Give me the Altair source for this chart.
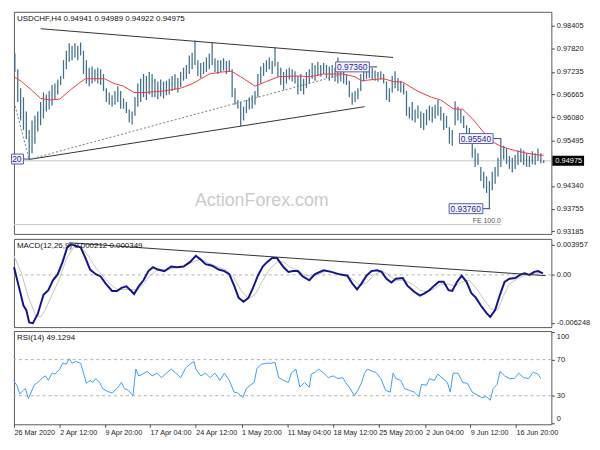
import json
import altair as alt
import pandas as pd

# ---------------- price bars (8-hour steps, high / low) ----------------
highs = [
    0.9770, 0.9730, 0.9682, 0.9659, 0.9623, 0.9576, 0.9600, 0.9612, 0.9623, 0.9647,
    0.9671, 0.9666, 0.9675, 0.9690, 0.9694, 0.9704, 0.9713, 0.9753, 0.9777, 0.9796,
    0.9789, 0.9796, 0.9789, 0.9798, 0.9777, 0.9753, 0.9734, 0.9737, 0.9730, 0.9734,
    0.9730, 0.9718, 0.9682, 0.9671, 0.9664, 0.9675, 0.9687, 0.9675, 0.9656, 0.9647,
    0.9628, 0.9623, 0.9659, 0.9694, 0.9706, 0.9718, 0.9713, 0.9723, 0.9718, 0.9706,
    0.9699, 0.9704, 0.9699, 0.9701, 0.9706, 0.9713, 0.9718, 0.9708, 0.9723, 0.9734,
    0.9741, 0.9765, 0.9772, 0.9803, 0.9753, 0.9746, 0.9749, 0.9760, 0.9770, 0.9798,
    0.9758, 0.9753, 0.9753, 0.9758, 0.9751, 0.9753, 0.9730, 0.9682, 0.9652, 0.9647,
    0.9635, 0.9652, 0.9659, 0.9664, 0.9675, 0.9718, 0.9737, 0.9746, 0.9753, 0.9760,
    0.9751, 0.9786, 0.9749, 0.9734, 0.9723, 0.9730, 0.9734, 0.9730, 0.9725, 0.9713,
    0.9718, 0.9706, 0.9723, 0.9730, 0.9746, 0.9741, 0.9749, 0.9741, 0.9746, 0.9741,
    0.9737, 0.9741, 0.9734, 0.9760, 0.9725, 0.9723, 0.9718, 0.9701, 0.9671, 0.9675,
    0.9682, 0.9718, 0.9732, 0.9734, 0.9736, 0.9734, 0.9727, 0.9723, 0.9725, 0.9718,
    0.9699, 0.9682, 0.9713, 0.9725, 0.9708, 0.9701, 0.9694, 0.9675, 0.9635, 0.9647,
    0.9628, 0.9638, 0.9623, 0.9619, 0.9628, 0.9638, 0.9635, 0.9640, 0.9652, 0.9635,
    0.9619, 0.9612, 0.9583, 0.9576, 0.9649, 0.9635, 0.9628, 0.9612, 0.9588, 0.9581,
    0.9557, 0.9529, 0.9517, 0.9482, 0.9470, 0.9458, 0.9446, 0.9470, 0.9482, 0.9505,
    0.9554, 0.9536, 0.9529, 0.9510, 0.9505, 0.9512, 0.9524, 0.9529, 0.9524, 0.9517,
    0.9510, 0.9522, 0.9517, 0.9529, 0.9517, 0.9499,
]
lows = [
    0.9723, 0.9647, 0.9600, 0.9576, 0.9553, 0.9501, 0.9517, 0.9541, 0.9572, 0.9588,
    0.9605, 0.9623, 0.9628, 0.9638, 0.9654, 0.9666, 0.9690, 0.9706, 0.9730, 0.9749,
    0.9753, 0.9760, 0.9753, 0.9765, 0.9718, 0.9694, 0.9687, 0.9694, 0.9699, 0.9694,
    0.9690, 0.9675, 0.9647, 0.9640, 0.9635, 0.9640, 0.9647, 0.9630, 0.9630, 0.9619,
    0.9595, 0.9590, 0.9612, 0.9635, 0.9647, 0.9659, 0.9652, 0.9666, 0.9659, 0.9659,
    0.9654, 0.9661, 0.9656, 0.9664, 0.9666, 0.9675, 0.9678, 0.9671, 0.9685, 0.9701,
    0.9706, 0.9718, 0.9730, 0.9741, 0.9713, 0.9708, 0.9718, 0.9723, 0.9730, 0.9741,
    0.9723, 0.9718, 0.9723, 0.9727, 0.9718, 0.9723, 0.9659, 0.9640, 0.9630, 0.9586,
    0.9600, 0.9619, 0.9628, 0.9630, 0.9640, 0.9659, 0.9694, 0.9713, 0.9723, 0.9730,
    0.9718, 0.9737, 0.9711, 0.9690, 0.9678, 0.9694, 0.9704, 0.9699, 0.9694, 0.9666,
    0.9675, 0.9666, 0.9682, 0.9694, 0.9706, 0.9701, 0.9713, 0.9711, 0.9718, 0.9708,
    0.9701, 0.9708, 0.9699, 0.9694, 0.9699, 0.9694, 0.9690, 0.9659, 0.9640, 0.9647,
    0.9654, 0.9675, 0.9699, 0.9706, 0.9708, 0.9704, 0.9701, 0.9699, 0.9704, 0.9694,
    0.9652, 0.9647, 0.9671, 0.9682, 0.9675, 0.9671, 0.9666, 0.9612, 0.9605, 0.9600,
    0.9595, 0.9605, 0.9581, 0.9576, 0.9588, 0.9600, 0.9595, 0.9605, 0.9612, 0.9600,
    0.9576, 0.9581, 0.9541, 0.9536, 0.9588, 0.9600, 0.9593, 0.9581, 0.9553, 0.9545,
    0.9505, 0.9482, 0.9487, 0.9446, 0.9428, 0.9416, 0.9376, 0.9423, 0.9439, 0.9458,
    0.9482, 0.9501, 0.9489, 0.9477, 0.9468, 0.9477, 0.9487, 0.9494, 0.9487, 0.9482,
    0.9482, 0.9489, 0.9487, 0.9498, 0.9491, 0.9492,
]
bar_k = list(range(1, len(highs) + 1))

# ---------------- moving average (red) ----------------
ma_k = [0.7, 3.3, 6.7, 10, 13.3, 16.7, 20, 23.3, 25.7, 29, 32.3, 35.7, 39, 42.7, 46.7,
        53.3, 59, 63.3, 69, 73.3, 76.7, 80, 85, 89, 93.3, 100, 104.3, 109, 115.7, 120,
        122.3, 126.7, 130, 133.3, 136.7, 139, 141.7, 146.7, 150, 154.3, 157.7, 161,
        164.3, 167.7, 171, 175.7, 180, 184.3, 186]
ma_val = [0.9711, 0.9699, 0.9678, 0.9656, 0.9652, 0.9654, 0.9675, 0.9694, 0.9706, 0.9706,
          0.9706, 0.9694, 0.9687, 0.9671, 0.9671, 0.9675, 0.9682, 0.9694, 0.9718, 0.9723,
          0.9725, 0.9711, 0.9687, 0.9699, 0.9711, 0.9713, 0.9711, 0.9718, 0.9718, 0.9711,
          0.9701, 0.9704, 0.9706, 0.9699, 0.9697, 0.9687, 0.9675, 0.9659, 0.9652, 0.9630,
          0.9628, 0.9605, 0.9576, 0.9548, 0.9534, 0.9524, 0.9517, 0.9512, 0.9512]

# ---------------- MACD ----------------
macd_k = [0.7, 2.3, 4, 5, 6, 7.3, 9, 11, 12.7, 14.3, 16, 17.7, 19.3, 20.7, 22.3, 24, 25.7,
          27.3, 29.3, 31, 32.7, 35, 36.7, 38.3, 40, 41.7, 42.7, 44.3, 46, 47.7, 49.3, 51,
          53.3, 55.7, 57.7, 60, 62.3, 64.3, 66, 67.7, 70, 72.3, 74.3, 76, 77.7, 79.3, 81,
          82.7, 84.3, 86, 87.7, 89.3, 91, 92.7, 95, 96.7, 98.3, 100, 101.7, 104, 106, 109,
          111.7, 114.3, 117.3, 119, 120.7, 122.3, 124, 125.7, 127.7, 129.3, 131, 132.7,
          134.3, 136.7, 138.3, 140.7, 142.7, 144.3, 146, 147.7, 149.3, 151, 152.7, 154,
          155.7, 157.3, 159, 160.7, 162.3, 164, 166, 167.3, 169, 170.7, 172.3, 174, 176,
          177.7, 179.3, 181, 182.7, 184, 185.7]
macd_val = [0.0010, -0.0014, -0.0040, -0.0046, -0.0062, -0.0063, -0.0051, -0.0026, -0.0020,
            -0.0007, 0.0001, 0.0017, 0.0036, 0.0040, 0.0038, 0.0036, 0.0022, 0.0007, 0.0001,
            -0.0002, -0.0011, -0.0021, -0.0021, -0.0017, -0.0015, -0.0021, -0.0025, -0.0015,
            -0.0007, 0.0005, 0.0010, 0.0007, 0.0005, 0.0011, 0.0010, 0.0011, 0.0017, 0.0025,
            0.0020, 0.0014, 0.0012, 0.0007, 0.0005, 0.0001, -0.0014, -0.0030, -0.0035,
            -0.0030, -0.0017, -0.0001, 0.0011, 0.0017, 0.0022, 0.0022, 0.0010, 0.0004,
            0.0005, 0.0005, -0.0002, -0.0007, 0.0001, 0.0006, 0.0004, 0.0001, -0.0001,
            -0.0011, -0.0019, -0.0011, -0.0001, 0.0005, 0.0006, 0.0004, -0.0005, -0.0010,
            -0.0005, -0.0004, -0.0014, -0.0022, -0.0027, -0.0024, -0.0020, -0.0014, -0.0009,
            -0.0009, -0.0020, -0.0021, -0.0009, -0.0001, -0.0009, -0.0024, -0.0030, -0.0040,
            -0.0050, -0.0055, -0.0046, -0.0026, -0.0009, -0.0005, -0.0004, 0.0000, 0.0002,
            0.0000, 0.0004, 0.0005, 0.0002]
sig_k = [0.7, 3.3, 5.7, 8.3, 10, 11.7, 14, 16.7, 19, 21.7, 24, 26.7, 29.3, 31.7, 34.3,
         36.7, 39.3, 41.7, 44, 46, 48.3, 50.7, 53.3, 56.7, 60, 63.3, 66, 68.3, 71.7, 75,
         77.7, 80, 82.7, 85, 87.3, 90, 92.7, 95, 97.3, 100, 102.3, 105, 107.3, 110, 113.3,
         116.7, 119.3, 121.7, 124, 126.7, 129.3, 131.7, 134.3, 137.3, 140, 142.7, 145,
         147.3, 150, 152.7, 155, 157.3, 160, 162.7, 165, 167.7, 170, 171.7, 174, 176.7,
         180, 182.7, 185.7]
sig_val = [0.0025, 0.0002, -0.0029, -0.0053, -0.0055, -0.0045, -0.0026, -0.0004, 0.0021,
           0.0037, 0.0037, 0.0025, 0.0009, -0.0001, -0.0012, -0.0019, -0.0019, -0.0019,
           -0.0019, -0.0012, -0.0001, 0.0006, 0.0006, 0.0009, 0.0011, 0.0017, 0.0021,
           0.0016, 0.0011, 0.0006, -0.0004, -0.0020, -0.0031, -0.0026, -0.0010, 0.0007,
           0.0017, 0.0017, 0.0010, 0.0006, 0.0000, -0.0002, 0.0001, 0.0005, 0.0002, 0.0000,
           -0.0006, -0.0014, -0.0010, 0.0000, 0.0005, 0.0000, -0.0007, -0.0007, -0.0012,
           -0.0020, -0.0022, -0.0019, -0.0012, -0.0012, -0.0015, -0.0009, -0.0007, -0.0019,
           -0.0032, -0.0045, -0.0045, -0.0029, -0.0012, -0.0005, 0.0000, 0.0002, 0.0003]

# ---------------- RSI ----------------
rsi_k = [0.7, 1.7, 2.7, 4, 4.7, 5.7, 6.7, 7.7, 9, 10.7, 11.7, 12.7, 14, 15, 16.7, 17.7,
         19, 20, 21, 22.3, 24, 25, 26, 27.3, 28.3, 29.3, 30.7, 31.7, 33.3, 35, 36.7, 38.3,
         39.3, 40.7, 42.3, 43.3, 44.3, 45.7, 47.3, 49, 50.7, 52.3, 54, 55.7, 57.3, 59,
         60.7, 62.3, 63.7, 64.3, 66, 67.7, 69.3, 71, 72.7, 74.3, 76, 77.7, 79, 80.7, 82,
         83.3, 84.7, 85.7, 87.3, 89, 90.7, 92, 93.3, 95, 96.7, 97.7, 99.3, 100.7, 102.3,
         104, 104.7, 106, 107.3, 109, 110.7, 112.3, 114, 115.7, 116.7, 118.3, 119.7, 121,
         122.3, 123.3, 124.3, 126, 127.3, 129, 130.7, 132.3, 133.3, 134.3, 136, 137.3, 139,
         140.7, 142.3, 143.3, 145, 146, 147.7, 149, 150.7, 152.3, 153.3, 154.3, 156, 157.7,
         159.3, 161, 162.7, 164.3, 166, 167.3, 168.3, 169.7, 170.7, 172.3, 174, 175.7,
         177.3, 179, 180.7, 182.3, 184, 185]
rsi_val = [45.8, 41.6, 32, 36, 38, 27, 34, 41.6, 44.7, 50, 52, 47, 55, 54, 59.5, 66, 65, 71,
           66, 68, 66, 55, 43.7, 47, 44.7, 49, 44.7, 38, 35, 33, 38, 44.7, 38, 36, 30, 59.5,
           52, 54, 57, 52, 55, 50, 55, 59.5, 55, 50, 60.5, 65, 68, 59.5, 52, 55, 50, 55, 47,
           55, 47, 34, 33, 28, 38, 41.6, 44.7, 60.5, 65, 66, 66, 67, 50, 47, 44.7, 55, 59.5,
           39.5, 44.7, 39.5, 54, 56, 59.5, 55, 50, 52, 49, 50, 44.7, 38, 30, 36, 44.7, 55,
           59.5, 57, 56, 49, 36, 34, 55, 49, 47, 38, 36, 34, 29, 42.6, 41.6, 49, 47, 54, 49,
           44.7, 34, 55, 55, 44.7, 43.7, 34, 31, 28, 29, 25, 38, 42.6, 57, 52, 49, 49, 55,
           50, 49, 56, 54, 49]

# ---------------- lines, labels, ticks ----------------
trend_line = ["upper", "upper", "lower", "lower"]
trend_k = [10, 133.3, 6, 123.3]
trend_p = [0.9833, 0.9760, 0.9501, 0.9635]
fe_line = ["a", "a", "b", "b"]
fe_k = [0.7, 6, 6, 115]
fe_p = [0.9647, 0.9501, 0.9501, 0.9716]
fe_level = [0.93355]
fe_end_k = [171]
fe_text = ["FE 100.0"]

# price labels (the first one is cut by the left edge, leaving "20")
ann_text = ["0.97360", "0.95540", "0.93760"]
ann_price = [0.9736, 0.9554, 0.9376]
ann_k = [125, 168.3, 164.7]
ann_k_end = [127.7, 171, 167.3]
edge_text = ["20"]
edge_price = [0.9502]
edge_k = [4]
edge_k_end = [6]

macd_trend_k = [20, 186.7]
macd_trend_v = [0.0042, -0.0001]

last_price = [0.94975]
price_ticks = [0.98405, 0.97820, 0.97235, 0.96665, 0.96080, 0.95495, 0.94340, 0.93755, 0.93185]
macd_ticks = [0.003957, 0.0, -0.006248]
macd_tick_labels = ["0.003957", "0.00", "-0.006248"]
rsi_ticks = [100, 70, 30, 0]
rsi_levels = [70, 30]
x_ticks = [0.7, 16.7, 32.5, 48.3, 64.3, 80.3, 96.3, 112.3, 128.3, 144.7, 160.3, 176.3]
x_labels = ["26 Mar 2020", "2 Apr 12:00", "9 Apr 20:00", "17 Apr 04:00", "24 Apr 12:00",
            "1 May 20:00", "11 May 04:00", "18 May 12:00", "25 May 20:00", "2 Jun 04:00",
            "9 Jun 12:00", "16 Jun 20:00"]

main_title = ["USDCHF,H4  0.94941 0.94989 0.94922 0.94975"]
macd_title = ["MACD(12,26,9) 0.000212 0.000349"]
rsi_title = ["RSI(14) 49.1294"]
watermark = ["ActionForex.com"]

# ---------------- layout ----------------
W, HM, HD, HR = 542, 224, 89, 94
FONT = "Liberation Sans"
LBL = dict(labelFont=FONT, labelFontSize=7.5, labelColor="#222222", tickColor="#444444",
           tickSize=3, labelPadding=2, grid=False, domain=False, title=None,
           labelOverlap=False)

xsc = alt.Scale(domain=[0.67, 188.67], nice=False, zero=False)
ysc_main = alt.Scale(domain=[0.93119, 0.98759], nice=False, zero=False)
ysc_macd = alt.Scale(domain=[-0.00682, 0.00471], nice=False, zero=False)
ysc_rsi = alt.Scale(domain=[-1.6, 101.6], nice=False, zero=False)

main_axis = alt.Axis(orient="right", values=price_ticks, format=".5f", **LBL)
macd_expr = (f"datum.value > 0.001 ? '{macd_tick_labels[0]}' : "
             f"(datum.value < -0.001 ? '{macd_tick_labels[2]}' : '{macd_tick_labels[1]}')")
macd_axis = alt.Axis(orient="right", values=macd_ticks, labelExpr=macd_expr, **LBL)
rsi_axis = alt.Axis(orient="right", values=rsi_ticks, format="d", labelFlush=4, **LBL)
x_expr = f"{json.dumps(x_labels)}[round((datum.value - {x_ticks[0]}) / 16)]"
x_axis = alt.Axis(values=x_ticks, labelExpr=x_expr, labelAlign="left", labelFlush=False,
                  labelFont=FONT, labelFontSize=7.3, labelColor="#222222",
                  tickColor="#444444", tickSize=3, labelPadding=1, grid=False,
                  domain=False, title=None, labelOverlap=False)


def X(f):
    return alt.X(f, type="quantitative", scale=xsc, axis=None, title=None)


def YM(f):
    return alt.Y(f, type="quantitative", scale=ysc_main, axis=main_axis, title=None)


def YD(f):
    return alt.Y(f, type="quantitative", scale=ysc_macd, axis=macd_axis, title=None)


def YR(f):
    return alt.Y(f, type="quantitative", scale=ysc_rsi, axis=rsi_axis, title=None)


# ---------------- main panel ----------------
bars_df = pd.DataFrame({"k": bar_k, "high": highs, "low": lows})
ma_df = pd.DataFrame({"k": ma_k, "v": ma_val})
trend_df = pd.DataFrame({"line": trend_line, "k": trend_k, "p": trend_p})
fe_df = pd.DataFrame({"line": fe_line, "k": fe_k, "p": fe_p})
fe_lvl_df = pd.DataFrame({"k0": [xsc.domain[0]], "k1": fe_end_k, "p": fe_level, "t": fe_text})
ann_df = pd.DataFrame({"t": ann_text, "p": ann_price, "kb": ann_k, "ke": ann_k_end})
edge_df = pd.DataFrame({"t": edge_text, "p": edge_price, "kb": edge_k, "ke": edge_k_end})
last_df = pd.DataFrame({"p": last_price, "t": [f"{last_price[0]:.5f}"]})

BOX = dict(fill="#f6f6ff", stroke="#5a5ab4", strokeWidth=1)
TXT = dict(align="right", baseline="middle", dx=-2, fontSize=8.5, font=FONT, color="#1e1e9a")

cur_line = alt.Chart(last_df).mark_rule(color="#c6c6c6", strokeWidth=1).encode(y=YM("p"))
fe_rule = alt.Chart(fe_lvl_df).mark_rule(color="#c6c6c6", strokeWidth=1).encode(
    x=X("k0"), x2="k1", y=YM("p"))
fe_lbl = alt.Chart(fe_lvl_df).mark_text(align="right", baseline="bottom", dy=-1, fontSize=7,
                                        font=FONT, color="#555555").encode(
    x=X("k1"), y=YM("p"), text="t:N")
wm = alt.Chart(pd.DataFrame({"t": watermark})).mark_text(
    fontSize=18, font=FONT, color="#cbcbcb").encode(
    x=alt.value(250), y=alt.value(191), text="t:N")
bars = alt.Chart(bars_df).mark_rule(color="#3f6e8e", strokeWidth=1.25).encode(
    x=X("k"), y=YM("low"), y2="high")
ma = alt.Chart(ma_df).mark_line(color="#f03a3a", strokeWidth=1).encode(x=X("k"), y=YM("v"))
trend = alt.Chart(trend_df).mark_line(color="#333333", strokeWidth=1).encode(
    x=X("k"), y=YM("p"), detail="line:N")
fe_dash = alt.Chart(fe_df).mark_line(color="#6f8080", strokeWidth=1, strokeDash=[2, 2]).encode(
    x=X("k"), y=YM("p"), detail="line:N")
ann_conn = alt.Chart(ann_df).mark_rule(color="#3a3aa8", strokeWidth=1).encode(
    x=X("kb"), x2="ke", y=YM("p"))
ann_box = alt.Chart(ann_df).mark_rect(xOffset=-34, x2Offset=0, yOffset=-5, y2Offset=5,
                                      **BOX).encode(x=X("kb"), x2="kb", y=YM("p"), y2="p")
ann_txt = alt.Chart(ann_df).mark_text(**TXT).encode(x=X("kb"), y=YM("p"), text="t:N")
edge_conn = alt.Chart(edge_df).mark_rule(color="#3a3aa8", strokeWidth=1).encode(
    x=X("kb"), x2="ke", y=YM("p"))
edge_box = alt.Chart(edge_df).mark_rect(xOffset=-12, x2Offset=0, yOffset=-5, y2Offset=5,
                                        **BOX).encode(x=X("kb"), x2="kb", y=YM("p"), y2="p")
edge_txt = alt.Chart(edge_df).mark_text(**TXT).encode(x=X("kb"), y=YM("p"), text="t:N")
title_m = alt.Chart(pd.DataFrame({"t": main_title})).mark_text(
    align="left", baseline="top", fontSize=8, font=FONT, color="#111111").encode(
    x=alt.value(3), y=alt.value(3), text="t:N")
price_box = alt.Chart(last_df).mark_rect(color="#000000", yOffset=-5, y2Offset=5).encode(
    x=alt.value(W + 1), x2=alt.value(W + 33), y=YM("p"), y2="p")
price_txt = alt.Chart(last_df).mark_text(align="left", baseline="middle", fontSize=7.5,
                                         font=FONT, color="#ffffff").encode(
    x=alt.value(W + 4), y=YM("p"), text="t:N")

main = alt.layer(cur_line, fe_rule, fe_lbl, wm, bars, ma, trend, fe_dash, ann_conn, ann_box,
                 ann_txt, edge_conn, edge_box, edge_txt, title_m, price_box,
                 price_txt).properties(width=W, height=HM)

# ---------------- MACD panel ----------------
macd_df = pd.DataFrame({"k": macd_k, "v": macd_val})
sig_df = pd.DataFrame({"k": sig_k, "v": sig_val})
mtr_df = pd.DataFrame({"k": macd_trend_k, "v": macd_trend_v})
zero = alt.Chart(pd.DataFrame({"v": [0.0]})).mark_rule(
    color="#b0b0b0", strokeWidth=1, strokeDash=[3, 3]).encode(y=YD("v"))
sig = alt.Chart(sig_df).mark_line(color="#c4c4c4", strokeWidth=1).encode(x=X("k"), y=YD("v"))
mac = alt.Chart(macd_df).mark_line(color="#14148c", strokeWidth=2).encode(x=X("k"), y=YD("v"))
mtr = alt.Chart(mtr_df).mark_line(color="#333333", strokeWidth=1).encode(x=X("k"), y=YD("v"))
title_d = alt.Chart(pd.DataFrame({"t": macd_title})).mark_text(
    align="left", baseline="top", fontSize=8, font=FONT, color="#111111").encode(
    x=alt.value(3), y=alt.value(3), text="t:N")
macd = alt.layer(zero, sig, mac, mtr, title_d).properties(width=W, height=HD)

# ---------------- RSI panel ----------------
rsi_df = pd.DataFrame({"k": rsi_k, "v": rsi_val})
lvl = alt.Chart(pd.DataFrame({"v": rsi_levels})).mark_rule(
    color="#b0b0b0", strokeWidth=1, strokeDash=[3, 3]).encode(y=YR("v"))
rsi_line = alt.Chart(rsi_df).mark_line(color="#3d9bff", strokeWidth=1).encode(
    x=alt.X("k", type="quantitative", scale=xsc, axis=x_axis, title=None), y=YR("v"))
title_r = alt.Chart(pd.DataFrame({"t": rsi_title})).mark_text(
    align="left", baseline="top", fontSize=8, font=FONT, color="#111111").encode(
    x=alt.value(3), y=alt.value(3), text="t:N")
rsi = alt.layer(lvl, rsi_line, title_r).properties(width=W, height=HR)

chart = alt.vconcat(main, macd, rsi, spacing=2).properties(
    padding={"left": 1, "top": 1, "right": 1, "bottom": 1}
).configure(background="#ffffff").configure_view(stroke="#5a5a5a", strokeWidth=1)

chart.save("out.html", embed_options={"renderer": "svg", "actions": False})
